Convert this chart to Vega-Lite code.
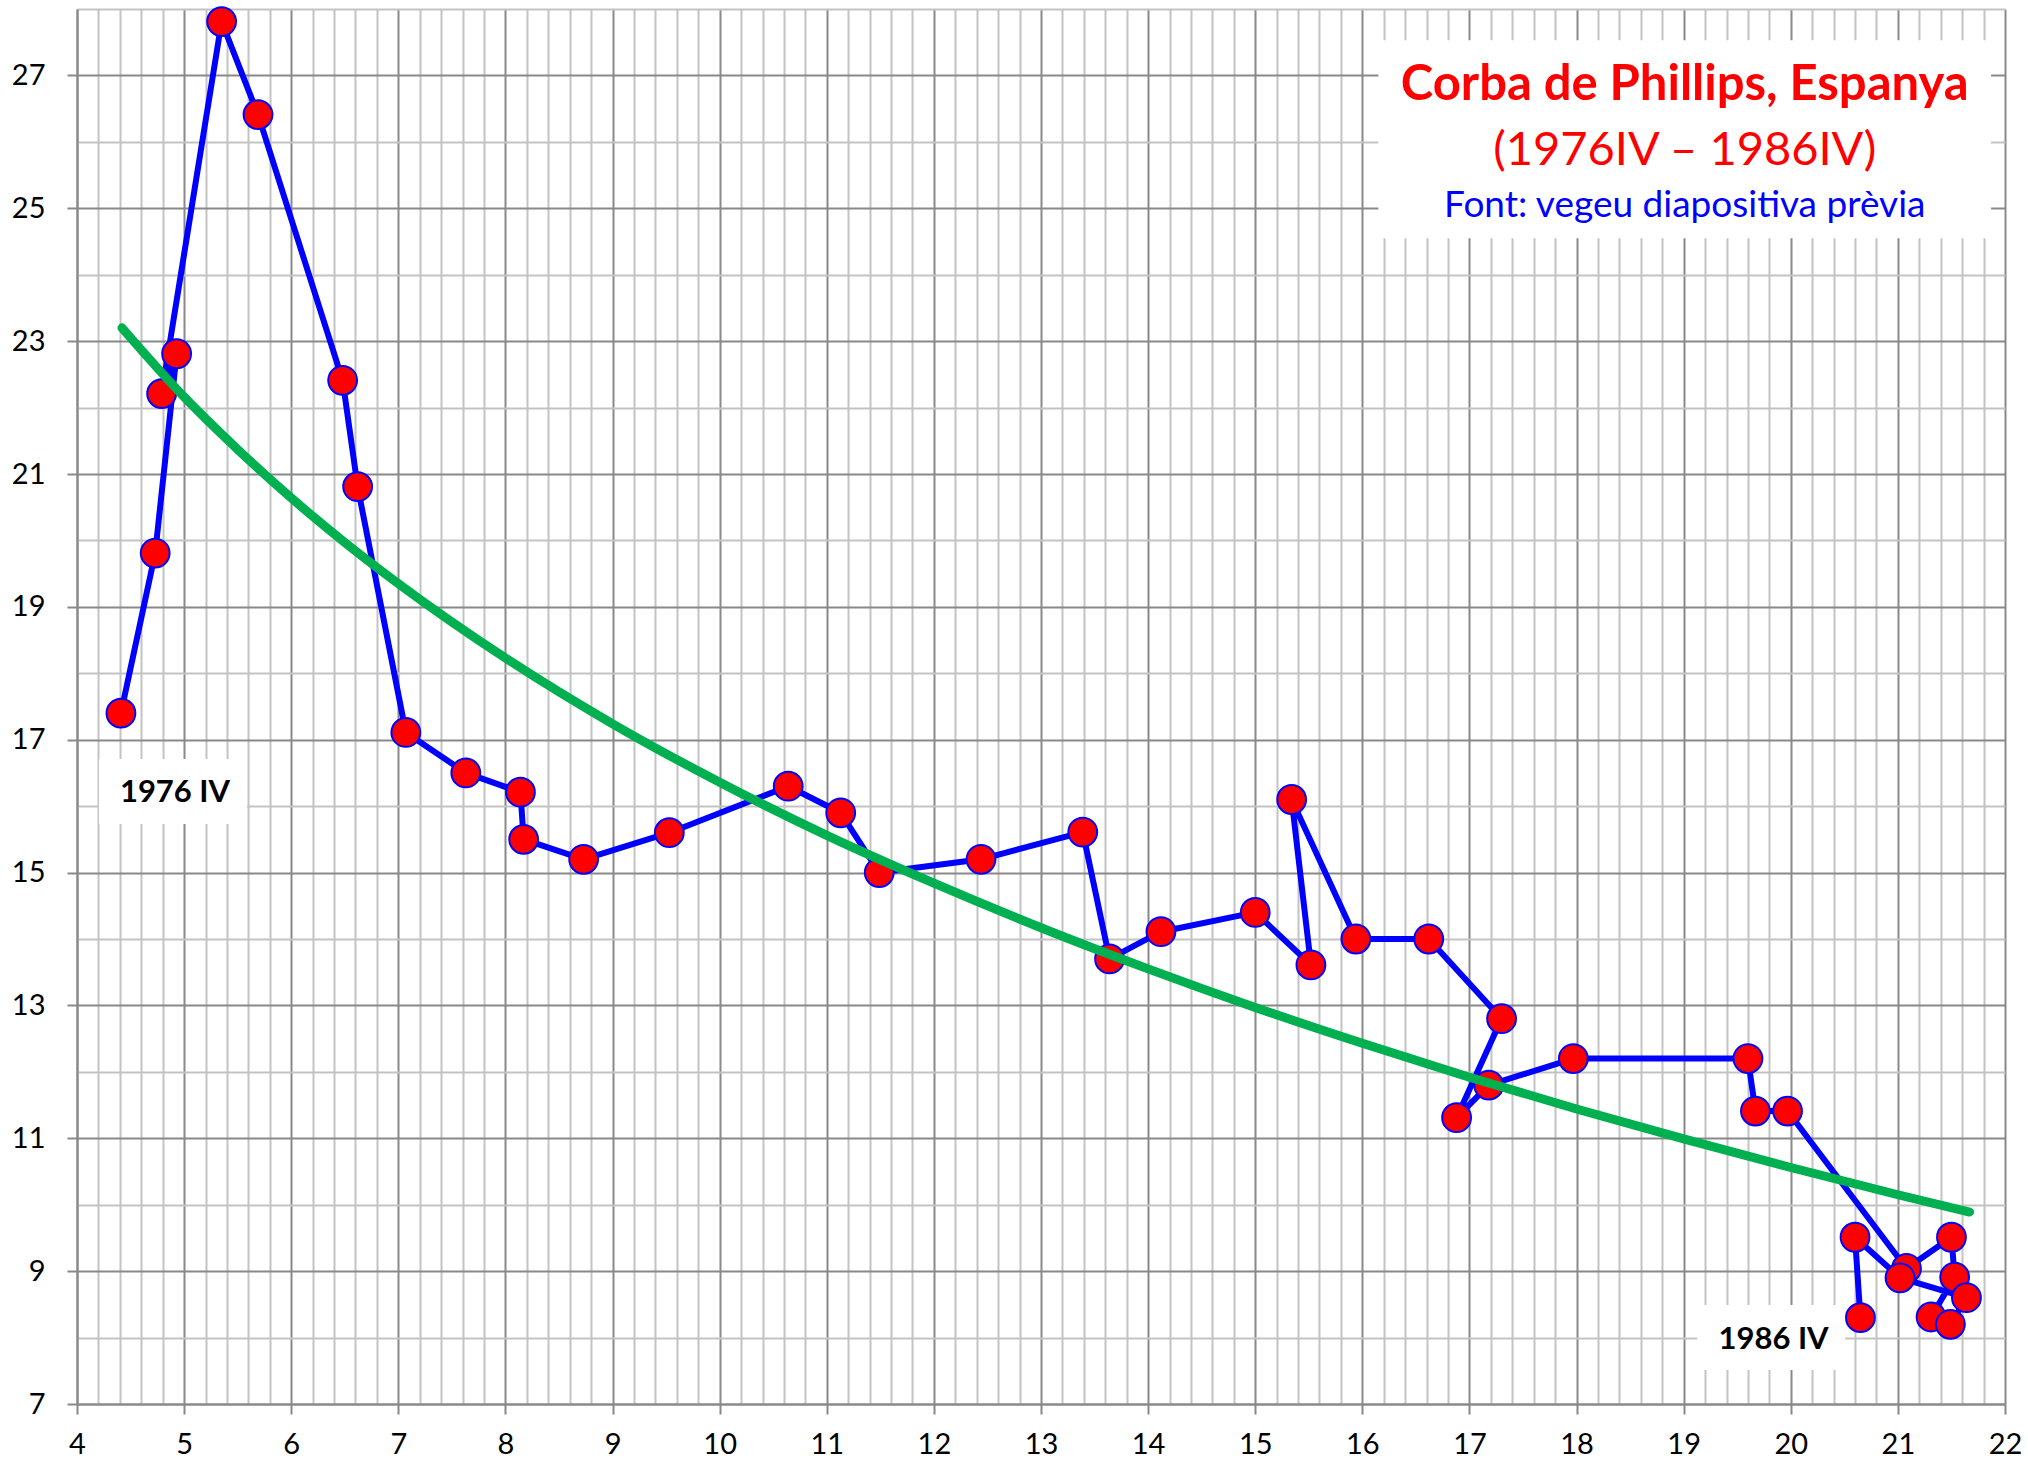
{
  "$schema": "https://vega.github.io/schema/vega-lite/v6.json",
  "width": 1928,
  "height": 1395,
  "autosize": {"type": "none"},
  "padding": {"left": 77, "top": 9, "right": 23, "bottom": 56},
  "background": "white",
  "config": {"view": {"stroke": null}, "font": "Lato"},
  "datasets": {
    "phillips": [
      {"t": 1, "atur": 4.41, "inflacio": 17.40},
      {"t": 2, "atur": 4.73, "inflacio": 19.81},
      {"t": 3, "atur": 4.93, "inflacio": 22.81},
      {"t": 4, "atur": 4.79, "inflacio": 22.21},
      {"t": 5, "atur": 5.35, "inflacio": 27.81},
      {"t": 6, "atur": 5.69, "inflacio": 26.41},
      {"t": 7, "atur": 6.48, "inflacio": 22.41},
      {"t": 8, "atur": 6.62, "inflacio": 20.81},
      {"t": 9, "atur": 7.07, "inflacio": 17.11},
      {"t": 10, "atur": 7.63, "inflacio": 16.50},
      {"t": 11, "atur": 8.14, "inflacio": 16.21},
      {"t": 12, "atur": 8.17, "inflacio": 15.50},
      {"t": 13, "atur": 8.73, "inflacio": 15.20},
      {"t": 14, "atur": 9.53, "inflacio": 15.60},
      {"t": 15, "atur": 10.64, "inflacio": 16.30},
      {"t": 16, "atur": 11.13, "inflacio": 15.90},
      {"t": 17, "atur": 11.49, "inflacio": 15.00},
      {"t": 18, "atur": 12.44, "inflacio": 15.20},
      {"t": 19, "atur": 13.39, "inflacio": 15.61},
      {"t": 20, "atur": 13.64, "inflacio": 13.70},
      {"t": 21, "atur": 14.12, "inflacio": 14.11},
      {"t": 22, "atur": 15.00, "inflacio": 14.40},
      {"t": 23, "atur": 15.52, "inflacio": 13.61},
      {"t": 24, "atur": 15.34, "inflacio": 16.10},
      {"t": 25, "atur": 15.94, "inflacio": 14.00},
      {"t": 26, "atur": 16.62, "inflacio": 14.00},
      {"t": 27, "atur": 17.30, "inflacio": 12.80},
      {"t": 28, "atur": 16.88, "inflacio": 11.31},
      {"t": 29, "atur": 17.18, "inflacio": 11.80},
      {"t": 30, "atur": 17.97, "inflacio": 12.20},
      {"t": 31, "atur": 19.60, "inflacio": 12.20},
      {"t": 32, "atur": 19.67, "inflacio": 11.41},
      {"t": 33, "atur": 19.97, "inflacio": 11.41},
      {"t": 34, "atur": 21.08, "inflacio": 9.04},
      {"t": 35, "atur": 21.50, "inflacio": 9.51},
      {"t": 36, "atur": 21.53, "inflacio": 8.91},
      {"t": 37, "atur": 21.31, "inflacio": 8.31},
      {"t": 38, "atur": 21.49, "inflacio": 8.20},
      {"t": 39, "atur": 21.64, "inflacio": 8.60},
      {"t": 40, "atur": 21.02, "inflacio": 8.90},
      {"t": 41, "atur": 20.60, "inflacio": 9.51},
      {"t": 42, "atur": 20.65, "inflacio": 8.30}
    ],
    "tendencia": [
      {"atur": 4.42, "inflacio": 23.20},
      {"atur": 5, "inflacio": 22.16},
      {"atur": 5.5, "inflacio": 21.37},
      {"atur": 6, "inflacio": 20.64},
      {"atur": 6.5, "inflacio": 19.97},
      {"atur": 7, "inflacio": 19.35},
      {"atur": 8, "inflacio": 18.23},
      {"atur": 9, "inflacio": 17.24},
      {"atur": 10, "inflacio": 16.36},
      {"atur": 11, "inflacio": 15.56},
      {"atur": 12, "inflacio": 14.84},
      {"atur": 13, "inflacio": 14.17},
      {"atur": 14, "inflacio": 13.55},
      {"atur": 15, "inflacio": 12.97},
      {"atur": 16, "inflacio": 12.43},
      {"atur": 17, "inflacio": 11.92},
      {"atur": 18, "inflacio": 11.44},
      {"atur": 19, "inflacio": 10.99},
      {"atur": 20, "inflacio": 10.56},
      {"atur": 21, "inflacio": 10.15},
      {"atur": 21.67, "inflacio": 9.89}
    ]
  },
  "layer": [
    {
      "data": {"name": "phillips"},
      "mark": {"type": "line", "color": "#0000ff", "strokeWidth": 6, "strokeJoin": "round"},
      "encoding": {
        "x": {
          "field": "atur", "type": "quantitative",
          "scale": {"domain": [4, 22], "nice": false, "zero": false},
          "axis": {
            "title": null,
            "values": [4,4.2,4.4,4.6,4.8,5,5.2,5.4,5.6,5.8,6,6.2,6.4,6.6,6.8,7,7.2,7.4,7.6,7.8,8,8.2,8.4,8.6,8.8,9,9.2,9.4,9.6,9.8,10,10.2,10.4,10.6,10.8,11,11.2,11.4,11.6,11.8,12,12.2,12.4,12.6,12.8,13,13.2,13.4,13.6,13.8,14,14.2,14.4,14.6,14.8,15,15.2,15.4,15.6,15.8,16,16.2,16.4,16.6,16.8,17,17.2,17.4,17.6,17.8,18,18.2,18.4,18.6,18.8,19,19.2,19.4,19.6,19.8,20,20.2,20.4,20.6,20.8,21,21.2,21.4,21.6,21.8,22],
            "tickCount": 1000,
            "labelExpr": "abs(datum.value - round(datum.value)) < 0.01 ? format(datum.value, 'd') : ''",
            "labelOverlap": false,
            "labelFlush": false,
            "labelFont": "Lato",
            "labelFontSize": 29,
            "labelColor": "#000000",
            "labelPadding": 16,
            "grid": true,
            "gridWidth": 2,
            "gridColor": {"condition": {"test": "abs(datum.value - round(datum.value)) < 0.01", "value": "#898989"}, "value": "#c3c3c3"},
            "tickSize": 10,
            "tickWidth": 2,
            "tickColor": {"condition": {"test": "abs(datum.value - round(datum.value)) < 0.01", "value": "#898989"}, "value": "rgba(0,0,0,0)"},
            "domainColor": "#898989",
            "domainWidth": 2
          }
        },
        "y": {
          "field": "inflacio", "type": "quantitative",
          "scale": {"domain": [7, 28], "nice": false, "zero": false},
          "axis": {
            "title": null,
            "values": [7,8,9,10,11,12,13,14,15,16,17,18,19,20,21,22,23,24,25,26,27,28],
            "tickCount": 1000,
            "labelExpr": "datum.value % 2 == 1 ? format(datum.value, 'd') : ''",
            "labelOverlap": false,
            "labelFlush": false,
            "labelFont": "Lato",
            "labelFontSize": 29,
            "labelColor": "#000000",
            "labelPadding": 22,
            "grid": true,
            "gridWidth": 2,
            "gridColor": {"condition": {"test": "datum.value % 2 == 1", "value": "#898989"}, "value": "#c3c3c3"},
            "tickSize": 10,
            "tickWidth": 2,
            "tickColor": {"condition": {"test": "datum.value % 2 == 1", "value": "#898989"}, "value": "rgba(0,0,0,0)"},
            "domainColor": "#898989",
            "domainWidth": 2
          }
        },
        "order": {"field": "t", "type": "quantitative"}
      }
    },
    {
      "data": {"name": "phillips"},
      "mark": {"type": "circle", "color": "#ff0000", "opacity": 1, "stroke": "#0000ff", "strokeWidth": 2, "size": 830},
      "encoding": {
        "x": {"field": "atur", "type": "quantitative"},
        "y": {"field": "inflacio", "type": "quantitative"}
      }
    },
    {
      "data": {"name": "tendencia"},
      "mark": {"type": "line", "color": "#00b050", "strokeWidth": 9, "strokeCap": "round", "interpolate": "monotone"},
      "encoding": {
        "x": {"field": "atur", "type": "quantitative"},
        "y": {"field": "inflacio", "type": "quantitative"}
      }
    },
    {
      "data": {"values": [{}]},
      "mark": {"type": "rect", "color": "#ffffff"},
      "encoding": {
        "x": {"datum": 16.15}, "x2": {"datum": 21.87},
        "y": {"datum": 27.53}, "y2": {"datum": 24.55}
      }
    },
    {
      "data": {"values": [{}]},
      "mark": {"type": "rect", "color": "#ffffff"},
      "encoding": {
        "x": {"datum": 4.205}, "x2": {"datum": 5.587},
        "y": {"datum": 16.709}, "y2": {"datum": 15.731}
      }
    },
    {
      "data": {"values": [{}]},
      "mark": {"type": "rect", "color": "#ffffff"},
      "encoding": {
        "x": {"datum": 19.125}, "x2": {"datum": 20.507},
        "y": {"datum": 8.49}, "y2": {"datum": 7.512}
      }
    },
    {
      "data": {"values": [{"text": "Corba de Phillips, Espanya"}]},
      "mark": {"type": "text", "color": "#ff0000", "font": "Lato", "fontWeight": "bold", "fontSize": 49, "align": "center", "baseline": "alphabetic"},
      "encoding": {"x": {"datum": 19.01}, "y": {"datum": 26.634}, "text": {"field": "text"}}
    },
    {
      "data": {"values": [{"text": "(1976IV – 1986IV)"}]},
      "mark": {"type": "text", "color": "#ff0000", "font": "Lato", "fontSize": 47, "align": "center", "baseline": "alphabetic"},
      "encoding": {"x": {"datum": 19.01}, "y": {"datum": 25.654}, "text": {"field": "text"}}
    },
    {
      "data": {"values": [{"text": "Font: vegeu diapositiva prèvia"}]},
      "mark": {"type": "text", "color": "#0000ff", "font": "Lato", "fontSize": 37, "align": "center", "baseline": "alphabetic"},
      "encoding": {"x": {"datum": 19.01}, "y": {"datum": 24.876}, "text": {"field": "text"}}
    },
    {
      "data": {"values": [{"text": "1976 IV"}]},
      "mark": {"type": "text", "color": "#000000", "font": "Lato", "fontWeight": "bold", "fontSize": 31, "align": "center", "baseline": "alphabetic"},
      "encoding": {"x": {"datum": 4.915}, "y": {"datum": 16.062}, "text": {"field": "text"}}
    },
    {
      "data": {"values": [{"text": "1986 IV"}]},
      "mark": {"type": "text", "color": "#000000", "font": "Lato", "fontWeight": "bold", "fontSize": 31, "align": "center", "baseline": "alphabetic"},
      "encoding": {"x": {"datum": 19.839}, "y": {"datum": 7.828}, "text": {"field": "text"}}
    }
  ]
}
